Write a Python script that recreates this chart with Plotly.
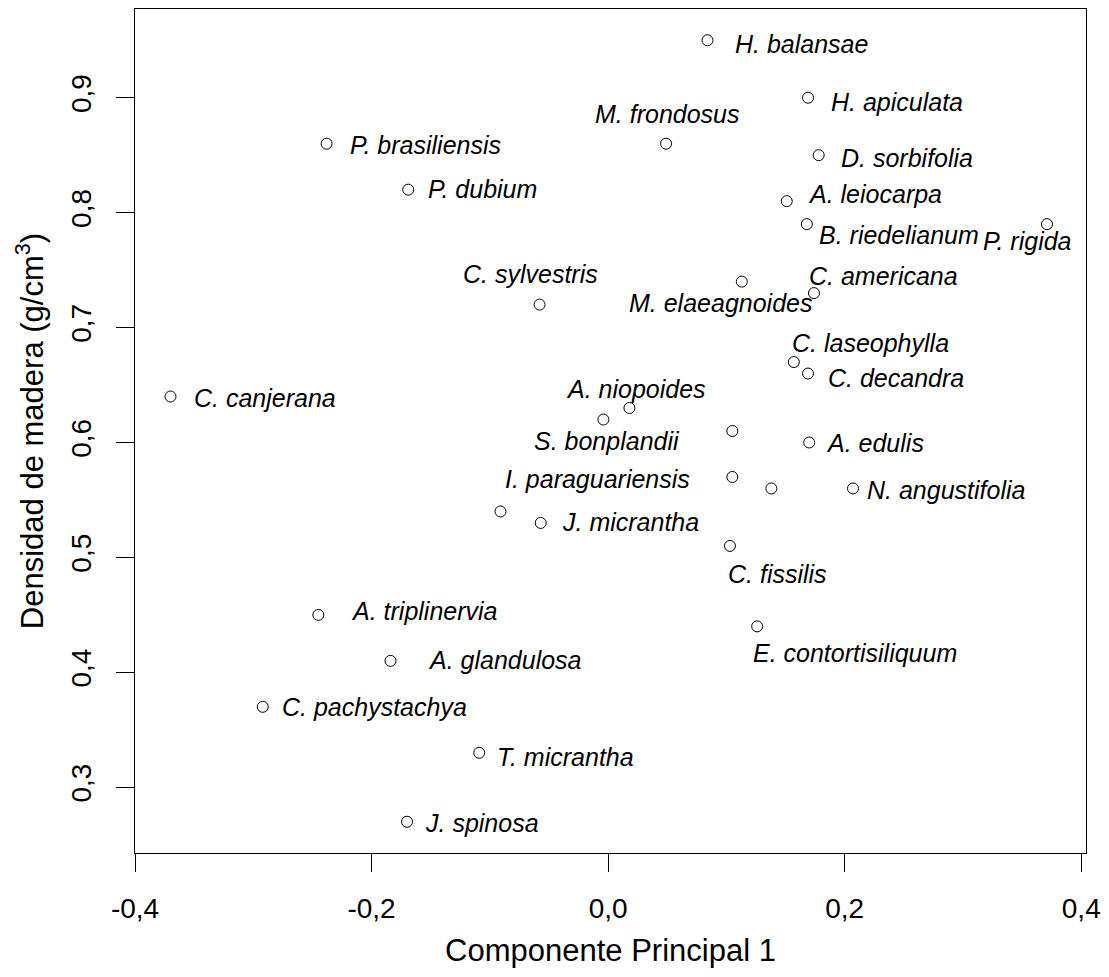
import plotly.graph_objects as go

# Species, first principal component score and wood density (g/cm3)
species = [
    "H. balansae", "H. apiculata", "M. frondosus", "P. brasiliensis",
    "D. sorbifolia", "P. dubium", "A. leiocarpa", "B. riedelianum",
    "P. rigida", "M. elaeagnoides", "C. americana", "C. sylvestris",
    "C. laseophylla", "C. decandra", "C. canjerana", "A. niopoides",
    "S. bonplandii", "", "A. edulis", "I. paraguariensis", "",
    "N. angustifolia", "", "J. micrantha", "C. fissilis",
    "A. triplinervia", "E. contortisiliquum", "A. glandulosa",
    "C. pachystachya", "T. micrantha", "J. spinosa",
]
pc1 = [
    0.084, 0.169, 0.049, -0.238,
    0.178, -0.169, 0.151, 0.168,
    0.371, 0.113, 0.174, -0.058,
    0.157, 0.169, -0.370, 0.018,
    -0.004, 0.105, 0.170, 0.105, 0.138,
    0.207, -0.091, -0.057, 0.103,
    -0.245, 0.126, -0.184,
    -0.292, -0.109, -0.170,
]
densidad = [
    0.95, 0.90, 0.86, 0.86,
    0.85, 0.82, 0.81, 0.79,
    0.79, 0.74, 0.73, 0.72,
    0.67, 0.66, 0.64, 0.63,
    0.62, 0.61, 0.60, 0.57, 0.56,
    0.56, 0.54, 0.53, 0.51,
    0.45, 0.44, 0.41,
    0.37, 0.33, 0.27,
]

x_ticks = [-0.4, -0.2, 0.0, 0.2, 0.4]
x_ticktext = ["-0,4", "-0,2", "0,0", "0,2", "0,4"]
y_ticks = [0.3, 0.4, 0.5, 0.6, 0.7, 0.8, 0.9]
y_ticktext = ["0,3", "0,4", "0,5", "0,6", "0,7", "0,8", "0,9"]

# Label placement next to each point: (x shift px, y shift px, anchor)
placement = {
    "H. balansae": (26, -4, "left"),
    "H. apiculata": (21, -4, "left"),
    "M. frondosus": (1, 30, "center"),
    "P. brasiliensis": (21, -1, "left"),
    "D. sorbifolia": (20, -3, "left"),
    "P. dubium": (18, 1, "left"),
    "A. leiocarpa": (19, 7, "left"),
    "B. riedelianum": (10, -11, "left"),
    "P. rigida": (-19, -17, "center"),
    "M. elaeagnoides": (-21, -21, "center"),
    "C. americana": (-7, 17, "left"),
    "C. sylvestris": (-9, 31, "center"),
    "C. laseophylla": (-4, 19, "left"),
    "C. decandra": (18, -4, "left"),
    "C. canjerana": (22, -1, "left"),
    "A. niopoides": (7, 19, "center"),
    "S. bonplandii": (4, -21, "center"),
    "A. edulis": (15, -1, "left"),
    "I. paraguariensis": (-40, -2, "right"),
    "N. angustifolia": (12, -2, "left"),
    "J. micrantha": (19, 1, "left"),
    "C. fissilis": (-4, -28, "left"),
    "A. triplinervia": (31, 4, "left"),
    "E. contortisiliquum": (-6, -27, "left"),
    "A. glandulosa": (36, 1, "left"),
    "C. pachystachya": (17, 0, "left"),
    "T. micrantha": (16, -4, "left"),
    "J. spinosa": (16, -1, "left"),
}

FONT = "Liberation Sans, Arial, sans-serif"

fig = go.Figure()
fig.add_trace(go.Scatter(
    x=pc1, y=densidad, mode="markers",
    marker=dict(symbol="circle-open", size=11, color="black",
                line=dict(width=1, color="black")),
    hoverinfo="x+y", showlegend=False,
))

for name, xv, yv in zip(species, pc1, densidad):
    if not name:
        continue
    dx, dy, anchor = placement[name]
    fig.add_annotation(
        x=xv, y=yv, text=f"<i>{name}</i>", showarrow=False,
        xanchor=anchor, yanchor="middle", xshift=dx, yshift=dy,
        font=dict(family=FONT, size=25, color="black"),
    )

axis_common = dict(
    showgrid=False, zeroline=False, showline=True, mirror=True,
    linecolor="black", linewidth=1, ticks="outside", ticklen=18,
    tickcolor="black", tickwidth=1,
    tickfont=dict(family=FONT, size=28, color="black"),
)

fig.update_layout(
    width=1109, height=977,
    margin=dict(l=135, r=18, t=8, b=124),
    paper_bgcolor="white", plot_bgcolor="white",
    xaxis=dict(
        range=[-0.4, 0.404], tickvals=x_ticks, ticktext=x_ticktext,
        ticklabelstandoff=12,
        title=dict(text="Componente Principal 1", standoff=16,
                   font=dict(family=FONT, size=31, color="black")),
        **axis_common,
    ),
    yaxis=dict(
        range=[0.2428, 0.9772], tickvals=y_ticks, ticktext=y_ticktext,
        tickangle=-90, ticklabelstandoff=14,
        title=dict(text="Densidad de madera (g/cm<sup>3</sup>)", standoff=12,
                   font=dict(family=FONT, size=31, color="black")),
        **axis_common,
    ),
)

fig.write_html("out.html")
